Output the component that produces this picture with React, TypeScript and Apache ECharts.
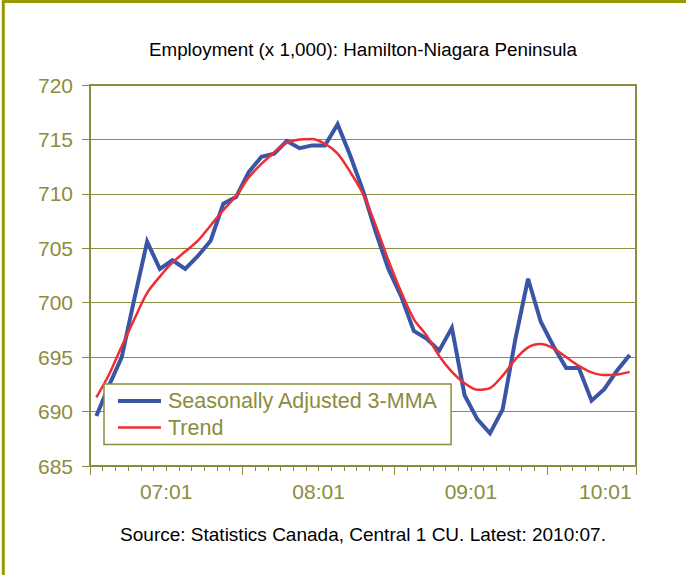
import React, { useEffect, useRef } from "react";
import * as echarts from "echarts";

const months = [
  "2007:01", "2007:02", "2007:03", "2007:04", "2007:05", "2007:06", "2007:07", "2007:08", "2007:09", "2007:10", "2007:11", "2007:12",
  "2008:01", "2008:02", "2008:03", "2008:04", "2008:05", "2008:06", "2008:07", "2008:08", "2008:09", "2008:10", "2008:11", "2008:12",
  "2009:01", "2009:02", "2009:03", "2009:04", "2009:05", "2009:06", "2009:07", "2009:08", "2009:09", "2009:10", "2009:11", "2009:12",
  "2010:01", "2010:02", "2010:03", "2010:04", "2010:05", "2010:06", "2010:07",
];

const seasonallyAdjusted = [
  689.6, 692.4, 695.0, 700.4, 705.6, 703.1, 703.9, 703.1, 704.3, 705.7, 709.1, 709.7,
  712.0, 713.4, 713.7, 714.85, 714.2, 714.45, 714.45, 716.4, 713.5, 710.3, 706.5, 703.1,
  700.6, 697.4, 696.7, 695.6, 697.7, 691.5, 689.3, 688.0, 690.2, 696.65, 702.2, 698.25,
  696.0, 694.0, 694.0, 691.0, 692.05, 693.75, 695.2,
];

const trend = [
  691.3, 693.4, 696.0, 698.5, 700.9, 702.4, 703.7, 704.7, 705.7, 707.1, 708.5, 709.8,
  711.5, 712.75, 713.8, 714.7, 715.0, 715.05, 714.6, 713.7, 712.0, 710.0, 707.1, 703.9,
  701.0, 698.5, 697.0, 695.1, 693.65, 692.6, 692.0, 692.15, 693.3, 694.8, 695.9, 696.2,
  695.8, 695.0, 694.2, 693.6, 693.35, 693.4, 693.65,
];

const yearLabels = ["07:01", "08:01", "09:01", "10:01"];

const seriesNames = ["Seasonally Adjusted 3-MMA", "Trend"];
const titleText = "Employment (x 1,000): Hamilton-Niagara Peninsula";
const sourceText = "Source: Statistics Canada, Central 1 CU. Latest: 2010:07.";

const OLIVE = "#8c8c3e";
const GRID = "#8c8c42";
const BLUE = "#3a55a5";
const RED = "#ee2e33";
const FONT = "'Liberation Sans', Arial, sans-serif";

export default function App() {
  const ref = useRef<HTMLDivElement>(null);
  useEffect(() => {
    const chart = echarts.init(ref.current!, null, { renderer: "svg" });
    const n = months.length;
    chart.setOption({
      animation: false,
      backgroundColor: "#ffffff",
      textStyle: { fontFamily: FONT },
      title: [
        {
          text: titleText,
          left: 363,
          top: 40,
          padding: 0,
          textAlign: "center",
          textStyle: { fontSize: 18.8, fontWeight: "normal", color: "#000", fontFamily: FONT },
        },
        {
          text: sourceText,
          left: 363,
          top: 525,
          padding: 0,
          textAlign: "center",
          textStyle: { fontSize: 19, fontWeight: "normal", color: "#000", fontFamily: FONT },
        },
      ],
      graphic: [
        {
          type: "polyline",
          shape: { points: [[3.3, 575], [3.3, 1.5], [686, 1.5]] },
          style: { stroke: "#999900", lineWidth: 3, fill: null },
          silent: true,
        },
      ],
      legend: {
        orient: "vertical",
        left: 104,
        top: 384,
        padding: [6, 13, 6, 12],
        itemGap: 4.5,
        itemWidth: 43,
        itemHeight: 14,
        backgroundColor: "#ffffff",
        borderColor: OLIVE,
        borderWidth: 1.5,
        borderRadius: 0,
        itemStyle: { opacity: 0 },
        textStyle: { fontSize: 21.5, color: OLIVE, fontFamily: FONT, padding: [0, 0, 0, 2] },
        data: [
          { name: seriesNames[0], lineStyle: { width: 4, color: BLUE }, itemStyle: { opacity: 0 } },
          { name: seriesNames[1], lineStyle: { width: 2.5, color: RED }, itemStyle: { opacity: 0 } },
        ],
      },
      grid: {
        left: 90,
        right: 50,
        top: 85,
        bottom: 109,
        show: true,
        borderColor: OLIVE,
        borderWidth: 2,
        backgroundColor: "transparent",
      },
      xAxis: [
        {
          type: "category",
          data: months,
          position: "bottom",
          boundaryGap: true,
          axisLine: { show: true, lineStyle: { color: OLIVE, width: 2 } },
          axisTick: { show: true, interval: 0, length: 5, lineStyle: { color: OLIVE, width: 1 } },
          axisLabel: { show: false },
          splitLine: { show: false },
        },
        {
          type: "category",
          data: months,
          position: "bottom",
          boundaryGap: true,
          axisLine: { show: false },
          axisTick: {
            show: true,
            interval: (i: number) => i % 12 === 0,
            length: 9,
            lineStyle: { color: OLIVE, width: 1 },
          },
          axisLabel: { show: false },
          splitLine: { show: false },
        },
        {
          type: "value",
          position: "bottom",
          min: 0,
          max: n,
          interval: 6,
          axisLine: { show: false },
          axisTick: { show: false },
          splitLine: { show: false },
          axisLabel: {
            show: true,
            margin: 15,
            fontSize: 21,
            color: OLIVE,
            fontFamily: FONT,
            formatter: (v: number) => {
              if ((v - 6) % 12 !== 0 || v < 6) return "";
              const k = (v - 6) / 12;
              const lab = yearLabels[k];
              if (!lab) return "";
              return k === yearLabels.length - 1 ? "{last|" + lab + "}" : lab;
            },
            rich: {
              last: { fontSize: 21, color: OLIVE, fontFamily: FONT, padding: [0, 36, 0, 0] },
            },
          },
        },
      ],
      yAxis: {
        type: "value",
        min: 685,
        max: 720,
        interval: 5,
        axisLine: { show: true, lineStyle: { color: OLIVE, width: 2 } },
        axisTick: { show: true, length: 8, lineStyle: { color: OLIVE, width: 1 } },
        axisLabel: { margin: 17, fontSize: 21, color: OLIVE, fontFamily: FONT },
        splitLine: { show: true, lineStyle: { color: GRID, width: 1 } },
      },
      series: [
        {
          name: seriesNames[0],
          type: "line",
          xAxisIndex: 0,
          data: seasonallyAdjusted,
          symbol: "none",
          lineStyle: { color: BLUE, width: 4, join: "miter" },
          itemStyle: { color: BLUE },
          z: 2,
        },
        {
          name: seriesNames[1],
          type: "line",
          xAxisIndex: 0,
          data: trend,
          symbol: "none",
          smooth: 0.3,
          lineStyle: { color: RED, width: 2.5 },
          itemStyle: { color: RED },
          z: 3,
        },
      ],
    });
    return () => chart.dispose();
  }, []);
  return (
    <div
      ref={ref}
      style={{ position: "fixed", left: 0, top: 0, width: 686, height: 575, background: "#fff" }}
    />
  );
}
